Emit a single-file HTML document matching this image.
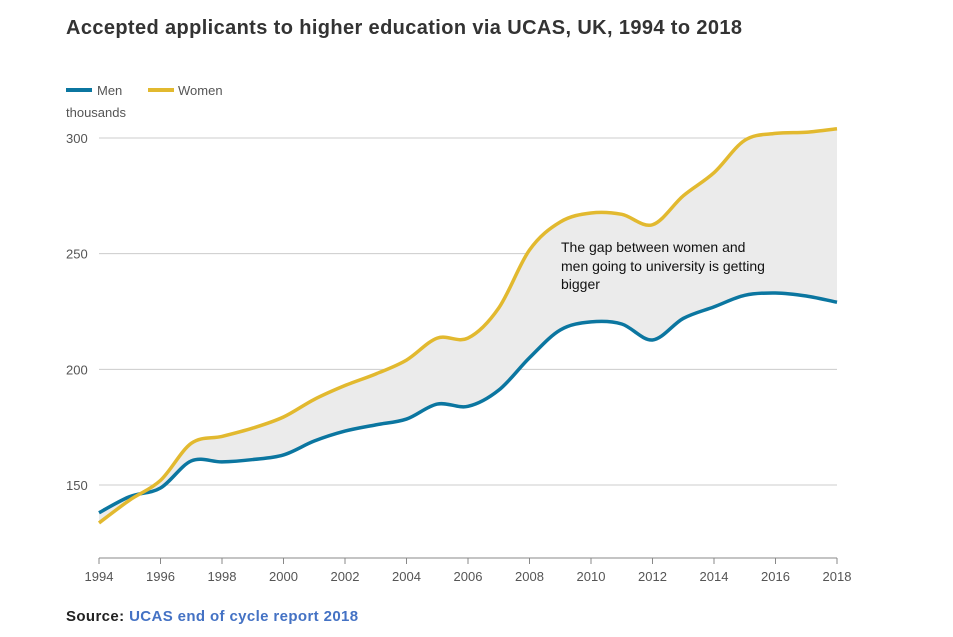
<!DOCTYPE html>
<html><head><meta charset="utf-8"><style>
body{margin:0;background:#fff;width:953px;height:632px;overflow:hidden;font-family:"Liberation Sans",sans-serif}
</style></head><body>
<svg width="953" height="632">
<text x="66" y="34" font-size="20" font-weight="bold" fill="#333" letter-spacing="0.38">Accepted applicants to higher education via UCAS, UK, 1994 to 2018</text>
<line x1="66" y1="90" x2="92" y2="90" stroke="#0b76a0" stroke-width="4"/>
<text x="97" y="95" font-size="13" fill="#555">Men</text>
<line x1="148" y1="90" x2="174" y2="90" stroke="#e2b92f" stroke-width="4"/>
<text x="178" y="95" font-size="13" fill="#555">Women</text>
<text x="66" y="117" font-size="13" fill="#555">thousands</text>
<g id="grid"></g>
<path id="gap" fill="#ebebeb"/>
<path id="men" fill="none" stroke="#0b76a0" stroke-width="3.5"/>
<path id="women" fill="none" stroke="#e2b92f" stroke-width="3.5"/>
<line x1="99" y1="558" x2="837" y2="558" stroke="#888"/>
<g id="xt"></g>
<text font-size="14" fill="#111"><tspan x="561" y="252">The gap between women and</tspan><tspan x="561" y="271">men going to university is getting</tspan><tspan x="561" y="289">bigger</tspan></text>
<text x="66" y="621" font-size="15" font-weight="bold" fill="#222" letter-spacing="0.38">Source: <tspan fill="#4472c4">UCAS end of cycle report 2018</tspan></text>
</svg>
<script>
const years=[1994,1995,1996,1997,1998,1999,2000,2001,2002,2003,2004,2005,2006,2007,2008,2009,2010,2011,2012,2013,2014,2015,2016,2017,2018];
const men=[138,145,148.7,160.4,160,161,163,169,173.3,176,178.5,185,184,191,205,217,220.5,219.6,212.7,222,227,232,233,231.7,229];
const women=[133.6,143.5,152,168,171,174.6,179.4,187,193,198,204,213.5,213.5,226.5,251.6,263.7,267.6,267,262.5,275,285,299,302,302.5,304];
const yTicks=[150,200,250,300];
const xTicks=[1994,1996,1998,2000,2002,2004,2006,2008,2010,2012,2014,2016,2018];
const NS="http://www.w3.org/2000/svg";
const x=v=>99+(v-1994)*(738/24);
const y=v=>485-(v-150)*(347/150);
function pts(a){return years.map((yr,i)=>[x(yr),y(a[i])]);}
function curve(p,move){let d=move?`M${p[0][0]},${p[0][1]}`:`L${p[0][0]},${p[0][1]}`;
for(let i=0;i<p.length-1;i++){const p0=p[i-1]||p[i],p1=p[i],p2=p[i+1],p3=p[i+2]||p2;
d+=` C${p1[0]+(p2[0]-p0[0])/6},${p1[1]+(p2[1]-p0[1])/6} ${p2[0]-(p3[0]-p1[0])/6},${p2[1]-(p3[1]-p1[1])/6} ${p2[0]},${p2[1]}`;}return d;}
const pm=pts(men),pw=pts(women);
document.getElementById('men').setAttribute('d',curve(pm,true));
document.getElementById('women').setAttribute('d',curve(pw,true));
document.getElementById('gap').setAttribute('d',curve(pw,true)+' '+curve(pm.slice().reverse(),false)+'Z');
const g=document.getElementById('grid');
yTicks.forEach(t=>{const l=document.createElementNS(NS,'line');
l.setAttribute('x1',99);l.setAttribute('x2',837);l.setAttribute('y1',y(t));l.setAttribute('y2',y(t));l.setAttribute('stroke','#ccc');


g.appendChild(l);
const tx=document.createElementNS(NS,'text');tx.setAttribute('x',66);tx.setAttribute('y',y(t)+5);tx.setAttribute('font-size','13');tx.setAttribute('fill','#555');tx.textContent=t;


g.appendChild(tx);});
const xt=document.getElementById('xt');
xTicks.forEach(t=>{const l=document.createElementNS(NS,'line');
l.setAttribute('x1',x(t));l.setAttribute('x2',x(t));l.setAttribute('y1',558);l.setAttribute('y2',564);l.setAttribute('stroke','#888');


xt.appendChild(l);
const tx=document.createElementNS(NS,'text');tx.setAttribute('x',x(t));tx.setAttribute('y',581);tx.setAttribute('text-anchor','middle');tx.setAttribute('font-size','13');tx.setAttribute('fill','#555');tx.textContent=t;


xt.appendChild(tx);});
</script>
</body></html>
